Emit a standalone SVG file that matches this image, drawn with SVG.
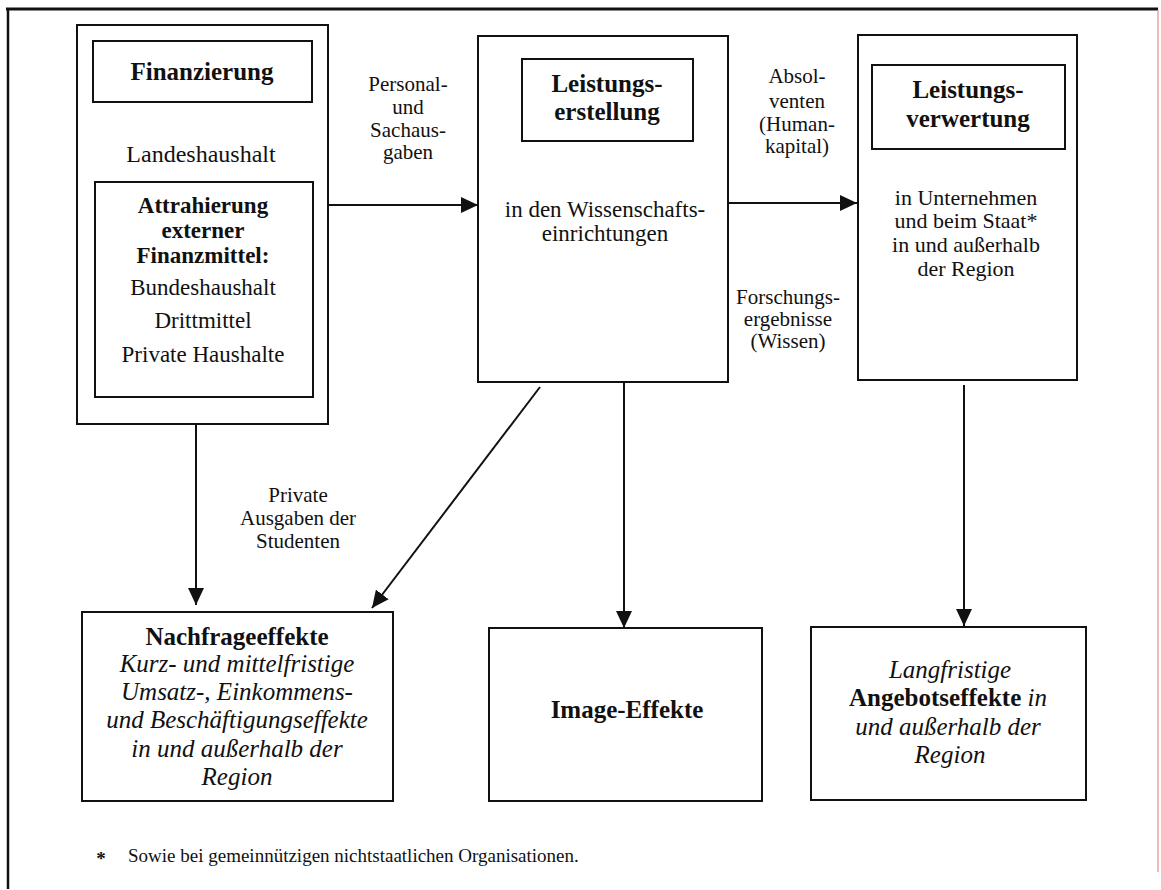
<svg xmlns="http://www.w3.org/2000/svg" width="1161" height="890" viewBox="0 0 1161 890">
<defs>
<style>
.box{fill:none;stroke:#111;stroke-width:2}
.t{font-family:"Liberation Serif","Times New Roman",serif;fill:#111;text-anchor:middle}
.b{font-weight:bold;font-size:25px}
.bs{font-weight:bold;font-size:23px}
.r{font-size:23px}
.l{font-size:21px}
.i{font-style:italic;font-size:25px}
.c{stroke:#111;stroke-width:2;fill:none;marker-end:url(#ah)}
</style>
<marker id="ah" markerUnits="userSpaceOnUse" markerWidth="18" markerHeight="16" refX="17" refY="8" orient="auto">
<path d="M0,0 L17,8 L0,16 z" fill="#111"/>
</marker>
</defs>
<rect width="1161" height="890" fill="#fff"/>
<g id="frame">
<line x1="6" y1="9" x2="1158" y2="9" stroke="#111" stroke-width="3"/>
<line x1="8" y1="8" x2="8" y2="889" stroke="#111" stroke-width="2.5"/>
<line x1="1158" y1="10" x2="1158" y2="872" stroke="#f2a0a0" stroke-width="1.5"/>
</g>
<g id="finanzierung">
<rect class="box" x="77" y="25" width="251" height="399"/>
<rect class="box" x="93" y="41" width="219" height="61"/>
<text class="t b" x="202" y="80">Finanzierung</text>
<text class="t r" x="201" y="162" style="font-size:24px">Landeshaushalt</text>
<rect class="box" x="95" y="182" width="218" height="215"/>
<text class="t bs" x="203" y="213">Attrahierung</text>
<text class="t bs" x="203" y="238">externer</text>
<text class="t bs" x="203" y="263">Finanzmittel:</text>
<text class="t r" x="203" y="295">Bundeshaushalt</text>
<text class="t r" x="203" y="328">Drittmittel</text>
<text class="t r" x="203" y="362">Private Haushalte</text>
</g>
<g id="leistungserstellung">
<rect class="box" x="478" y="36" width="250" height="346"/>
<rect class="box" x="522" y="59" width="171" height="82"/>
<text class="t b" x="607" y="92">Leistungs-</text>
<text class="t b" x="607" y="120">erstellung</text>
<text class="t r" x="605" y="217">in den Wissenschafts-</text>
<text class="t r" x="605" y="241">einrichtungen</text>
</g>
<g id="leistungsverwertung">
<rect class="box" x="858" y="35" width="219" height="345"/>
<rect class="box" x="872" y="65" width="193" height="84"/>
<text class="t b" x="968" y="98">Leistungs-</text>
<text class="t b" x="968" y="127">verwertung</text>
<text class="t r" x="966" y="205" style="font-size:22px">in Unternehmen</text>
<text class="t r" x="966" y="228" style="font-size:22px">und beim Staat*</text>
<text class="t r" x="966" y="252" style="font-size:22px">in und außerhalb</text>
<text class="t r" x="966" y="276" style="font-size:22px">der Region</text>
</g>
<g id="nachfrageeffekte">
<rect class="box" x="82" y="612" width="311" height="189"/>
<text class="t b" x="237" y="645">Nachfrageeffekte</text>
<text class="t i" x="237" y="672">Kurz- und mittelfristige</text>
<text class="t i" x="237" y="700">Umsatz-, Einkommens-</text>
<text class="t i" x="237" y="728">und Beschäftigungseffekte</text>
<text class="t i" x="237" y="757">in und außerhalb der</text>
<text class="t i" x="237" y="785">Region</text>
</g>
<g id="image-effekte">
<rect class="box" x="489" y="628" width="273" height="173"/>
<text class="t b" x="627" y="718">Image-Effekte</text>
</g>
<g id="angebotseffekte">
<rect class="box" x="811" y="627" width="275" height="173"/>
<text class="t i" x="950" y="678">Langfristige</text>
<text class="t" x="948" y="706"><tspan class="b">Angebotseffekte</tspan><tspan class="i"> in</tspan></text>
<text class="t i" x="948" y="735">und außerhalb der</text>
<text class="t i" x="950" y="763">Region</text>
</g>
<g id="connectors">
<line class="c" x1="328" y1="205" x2="478" y2="205"/>
<line class="c" x1="728" y1="203" x2="857" y2="203"/>
<line class="c" x1="196" y1="424" x2="196" y2="605"/>
<line class="c" x1="624" y1="382" x2="624" y2="628"/>
<line class="c" x1="964" y1="385" x2="964" y2="626"/>
<line class="c" x1="540" y1="387" x2="372" y2="608"/>
</g>
<g id="labels">
<text class="t l" x="408" y="91">Personal-</text>
<text class="t l" x="408" y="114">und</text>
<text class="t l" x="408" y="137">Sachaus-</text>
<text class="t l" x="408" y="159">gaben</text>
<text class="t l" x="797" y="83">Absol-</text>
<text class="t l" x="797" y="108">venten</text>
<text class="t l" x="797" y="131">(Human-</text>
<text class="t l" x="797" y="153">kapital)</text>
<text class="t l" x="788" y="304">Forschungs-</text>
<text class="t l" x="788" y="326">ergebnisse</text>
<text class="t l" x="788" y="348">(Wissen)</text>
<text class="t l" x="298" y="502">Private</text>
<text class="t l" x="298" y="525">Ausgaben der</text>
<text class="t l" x="298" y="548">Studenten</text>
</g>
<g id="footnote">
<text class="t" x="101" y="865" style="font-size:19px;font-weight:bold">*</text>
<text class="t" x="128" y="862" style="font-size:19px;text-anchor:start">Sowie bei gemeinnützigen nichtstaatlichen Organisationen.</text>
</g>
</svg>
